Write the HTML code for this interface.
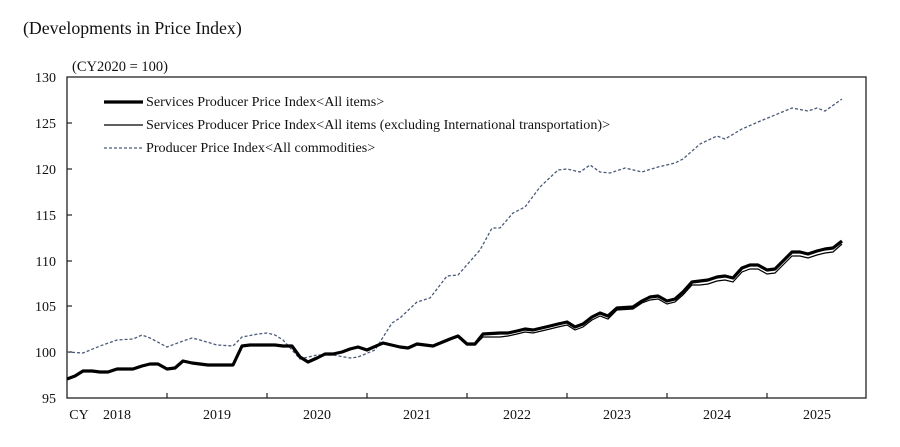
<!DOCTYPE html><html><head><style>body{margin:0;background:#fff}svg{display:block}text{font-family:"Liberation Serif",serif;fill:#111}</style></head><body>
<svg width="900" height="447" viewBox="0 0 900 447">
<text x="23" y="34" font-size="17.8">(Developments in Price Index)</text>
<text x="72" y="71" font-size="14.5">(CY2020 = 100)</text>
<rect x="67" y="77" width="799" height="321" fill="none" stroke="#222" stroke-width="1.3"/>
<g font-size="14" text-anchor="end">
<text x="56" y="82">130</text><text x="56" y="128">125</text><text x="56" y="174">120</text><text x="56" y="220">115</text><text x="56" y="266">110</text><text x="56" y="311">105</text><text x="56" y="357">100</text><text x="56" y="403">95</text></g>
<g stroke="#222" stroke-width="1.2"><line x1="67" y1="123" x2="72" y2="123"/><line x1="67" y1="169" x2="72" y2="169"/><line x1="67" y1="215" x2="72" y2="215"/><line x1="67" y1="261" x2="72" y2="261"/><line x1="67" y1="306" x2="72" y2="306"/><line x1="67" y1="352" x2="72" y2="352"/>
<line x1="167" y1="398" x2="167" y2="393"/><line x1="267" y1="398" x2="267" y2="393"/><line x1="367" y1="398" x2="367" y2="393"/><line x1="467" y1="398" x2="467" y2="393"/><line x1="567" y1="398" x2="567" y2="393"/><line x1="667" y1="398" x2="667" y2="393"/><line x1="767" y1="398" x2="767" y2="393"/></g>
<g font-size="14" text-anchor="middle"><text x="79" y="419">CY</text><text x="117" y="419">2018</text><text x="217" y="419">2019</text><text x="317" y="419">2020</text><text x="417" y="419">2021</text><text x="517" y="419">2022</text><text x="617" y="419">2023</text><text x="717" y="419">2024</text><text x="817" y="419">2025</text></g>
<polyline fill="none" stroke="#4a5a78" stroke-width="1.3" stroke-dasharray="3,2" points="67,352 83,353 100,346 117,340 133,339 142,335 150,338 167,347 183,341 192,338 200,340 217,345 233,346 242,337 258,334 267,333 275,335 283,340 292,350 300,359 317,355 333,355 350,358 358,357 375,350 392,323 400,318 417,302 430,298 447,276 458,275 480,250 492,228 500,228 513,213 525,207 540,187 558,170 567,169 580,172 590,165 600,172 610,173 625,168 642,172 658,167 675,163 683,159 700,144 717,136 725,139 742,129 758,122 775,115 792,108 808,111 817,108 825,111 842,99"/>
<polyline fill="none" stroke="#000" stroke-width="1.2" points="67,379 75,376 83,371 92,371 100,372 108,372 117,369 125,369 133,369 142,366 150,364 158,364 167,369 175,368 183,361 192,363 200,364 208,365 217,365 225,365 233,365 242,346 250,345 258,345 267,345 275,345 283,346 292,346 300,357 308,362 317,358 325,354 333,354 342,352 350,349 358,347 367,350 383,343 400,347 408,348 417,344 433,346 450,339 458,337 467,345 475,345 483,337 500,337 508,336 517,334 525,332 533,333 550,329 558,327 567,325 575,330 583,327 592,320 600,316 608,319 617,310 633,309 642,303 650,300 658,299 667,304 675,302 683,295 692,285 700,285 708,284 717,281 725,280 733,282 742,272 750,269 758,269 767,274 775,273 783,265 792,256 800,256 808,258 817,255 825,253 833,252 842,244"/>
<polyline fill="none" stroke="#000" stroke-width="3.2" stroke-linejoin="round" points="67,379 75,376 83,371 92,371 100,372 108,372 117,369 125,369 133,369 142,366 150,364 158,364 167,369 175,368 183,361 192,363 200,364 208,365 217,365 225,365 233,365 242,346 250,345 258,345 267,345 275,345 283,346 292,346 300,357 308,362 317,358 325,354 333,354 342,352 350,349 358,347 367,350 383,343 400,347 408,348 417,344 433,346 450,339 458,336 467,344 475,344 483,334 500,333 508,333 517,331 525,329 533,330 550,326 558,324 567,322 575,327 583,324 592,317 600,313 608,316 617,308 633,307 642,301 650,297 658,296 667,301 675,299 683,292 692,282 700,281 708,280 717,277 725,276 733,278 742,268 750,265 758,265 767,270 775,269 783,261 792,252 800,252 808,254 817,251 825,249 833,248 842,241"/>
<line x1="104" y1="102" x2="143" y2="102" stroke="#000" stroke-width="3.2"/>
<line x1="104" y1="125" x2="143" y2="125" stroke="#000" stroke-width="1.2"/>
<line x1="104" y1="148" x2="143" y2="148" stroke="#4a5a78" stroke-width="1.3" stroke-dasharray="3,2"/>
<g font-size="14.1"><text x="146" y="106">Services Producer Price Index&lt;All items&gt;</text><text x="146" y="129">Services Producer Price Index&lt;All items (excluding International transportation)&gt;</text><text x="146" y="152">Producer Price Index&lt;All commodities&gt;</text></g>
</svg></body></html>
